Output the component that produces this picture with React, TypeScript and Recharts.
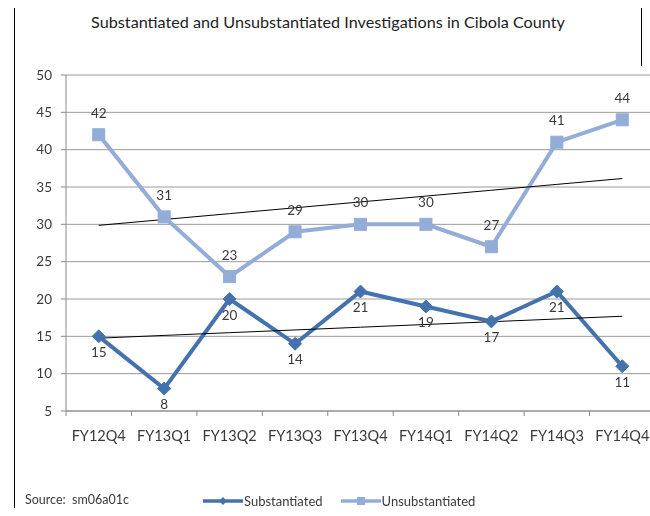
import React from 'react';
import { LineChart, Line, XAxis, YAxis, CartesianGrid, LabelList } from 'recharts';

const categories = ['FY12Q4', 'FY13Q1', 'FY13Q2', 'FY13Q3', 'FY13Q4', 'FY14Q1', 'FY14Q2', 'FY14Q3', 'FY14Q4'];
const substantiated = [15, 8, 20, 14, 21, 19, 17, 21, 11];
const unsubstantiated = [42, 31, 23, 29, 30, 30, 27, 41, 44];
const yTicks = [5, 10, 15, 20, 25, 30, 35, 40, 45, 50];

const TITLE = 'Substantiated and Unsubstantiated Investigations in Cibola County';
const SOURCE = 'Source:  sm06a01c';

const DARK = '#4472AE';
const LIGHT = '#93ACD8';
const TEXT = '#3a3a3a';
const FONT = 'Lato, "Open Sans", sans-serif';

// least-squares linear trend (as the spreadsheet's trendline)
function linearTrend(vals: number[]): number[] {
  const n = vals.length;
  const mx = (n - 1) / 2;
  const my = vals.reduce((a, b) => a + b, 0) / n;
  let sxy = 0;
  let sxx = 0;
  vals.forEach((v, i) => {
    sxy += (i - mx) * (v - my);
    sxx += (i - mx) * (i - mx);
  });
  const slope = sxy / sxx;
  return vals.map((_, i) => my + slope * (i - mx));
}

const trendS = linearTrend(substantiated);
const trendU = linearTrend(unsubstantiated);

const data = categories.map((cat, i) => ({
  cat,
  sub: substantiated[i],
  unsub: unsubstantiated[i],
  tS: trendS[i],
  tU: trendU[i],
}));

const CHART_W = 660;
const CHART_H = 470;
const MARGIN = { top: 67, right: 13, bottom: 37, left: 0 };
const Y_W = 58;
const PLOT_W = CHART_W - MARGIN.right - MARGIN.left - Y_W;
const HALF_BAND = PLOT_W / categories.length / 2;

const Diamond = (props: any) => {
  const { cx, cy } = props;
  if (cx == null || cy == null) return null;
  const r = 6.5;
  return (
    <polygon
      points={`${cx},${cy - r} ${cx + r},${cy} ${cx},${cy + r} ${cx - r},${cy}`}
      fill={DARK}
      stroke={DARK}
      strokeWidth={1}
    />
  );
};

const Square = (props: any) => {
  const { cx, cy } = props;
  if (cx == null || cy == null) return null;
  const s = 12;
  return <rect x={cx - s / 2} y={cy - s / 2} width={s} height={s} fill={LIGHT} stroke={LIGHT} />;
};

const XTick = (props: any) => {
  const { x, y, payload, index } = props;
  const axisY = y - 5;
  const last = index === categories.length - 1;
  return (
    <g>
      <line x1={x - HALF_BAND} x2={x - HALF_BAND} y1={axisY} y2={axisY + 5} stroke="#8a8a8a" />
      {last && <line x1={x + HALF_BAND} x2={x + HALF_BAND} y1={axisY} y2={axisY + 5} stroke="#8a8a8a" />}
      <text
        x={x}
        y={axisY + 24}
        textAnchor="middle"
        dominantBaseline="central"
        fill={TEXT}
        fontSize={14.5}
        fontFamily={FONT}
      >
        {payload.value}
      </text>
    </g>
  );
};

const LegendIcon = ({ color, marker }: { color: string; marker: 'diamond' | 'square' }) => (
  <svg width={40} height={10} style={{ display: 'block' }}>
    <line x1={0} x2={40} y1={5} y2={5} stroke={color} strokeWidth={3.5} />
    {marker === 'diamond' ? (
      <polygon points="20,1 24,5 20,9 16,5" fill={color} />
    ) : (
      <rect x={16} y={1} width={8} height={8} fill={color} />
    )}
  </svg>
);

export default function App() {
  return (
    <div
      style={{
        position: 'relative',
        width: 634,
        height: 500,
        fontFamily: FONT,
      }}
    >
      {/* frame */}
      <div style={{ position: 'absolute', left: 6, top: -2, width: 1, height: 510, background: '#000' }} />
      <div style={{ position: 'absolute', left: 6, top: -2, width: 627, height: 1, background: '#000' }} />
      <div style={{ position: 'absolute', left: 633, top: -2, width: 1, height: 60, background: '#000' }} />

      <div
        style={{
          position: 'absolute',
          left: 0,
          width: 640,
          top: 4,
          textAlign: 'center',
          fontSize: 16.2,
          color: '#222',
          whiteSpace: 'nowrap',
        }}
      >
        {TITLE}
      </div>

      <div style={{ position: 'fixed', left: 8, top: 8, width: 642, height: 500, overflow: 'hidden' }}>
        <LineChart width={CHART_W} height={CHART_H} data={data} margin={MARGIN}>
          <CartesianGrid horizontal vertical={false} stroke="#9a9a9a" strokeWidth={1} />
          <XAxis
            dataKey="cat"
            padding={{ left: HALF_BAND, right: HALF_BAND }}
            axisLine={{ stroke: '#8a8a8a' }}
            tickLine={false}
            tickSize={5}
            tickMargin={0}
            height={30}
            interval={0}
            tick={<XTick />}
          />
          <YAxis
            width={Y_W}
            domain={[5, 50]}
            ticks={yTicks}
            interval={0}
            axisLine={{ stroke: '#8a8a8a' }}
            tickLine={{ stroke: '#8a8a8a' }}
            tickSize={5}
            tickMargin={9}
            tick={{ fill: TEXT, fontSize: 13.5, fontFamily: FONT }}
          />
          <Line
            dataKey="sub"
            stroke={DARK}
            strokeWidth={4}
            dot={<Diamond />}
            activeDot={false}
            isAnimationActive={false}
          >
            <LabelList dataKey="sub" position="bottom" offset={11} fill={TEXT} fontSize={13.5} fontFamily={FONT} />
          </Line>
          <Line
            dataKey="unsub"
            stroke={LIGHT}
            strokeWidth={4}
            dot={<Square />}
            activeDot={false}
            isAnimationActive={false}
          >
            <LabelList dataKey="unsub" position="top" offset={17} fill={TEXT} fontSize={13.5} fontFamily={FONT} />
          </Line>
          <Line dataKey="tS" stroke="#000" strokeWidth={1} dot={false} activeDot={false} legendType="none" isAnimationActive={false} />
          <Line dataKey="tU" stroke="#000" strokeWidth={1} dot={false} activeDot={false} legendType="none" isAnimationActive={false} />
        </LineChart>
      </div>

      <div style={{ position: 'absolute', left: 17, top: 484, fontSize: 12.5, color: TEXT, whiteSpace: 'pre' }}>{SOURCE}</div>

      <div style={{ position: 'absolute', left: 195, top: 485, display: 'flex', alignItems: 'center', fontSize: 13, color: TEXT }}>
        <LegendIcon color={DARK} marker="diamond" />
        <span style={{ marginLeft: 1 }}>Substantiated</span>
        <span style={{ width: 18 }} />
        <LegendIcon color={LIGHT} marker="square" />
        <span style={{ marginLeft: 1 }}>Unsubstantiated</span>
      </div>
    </div>
  );
}
